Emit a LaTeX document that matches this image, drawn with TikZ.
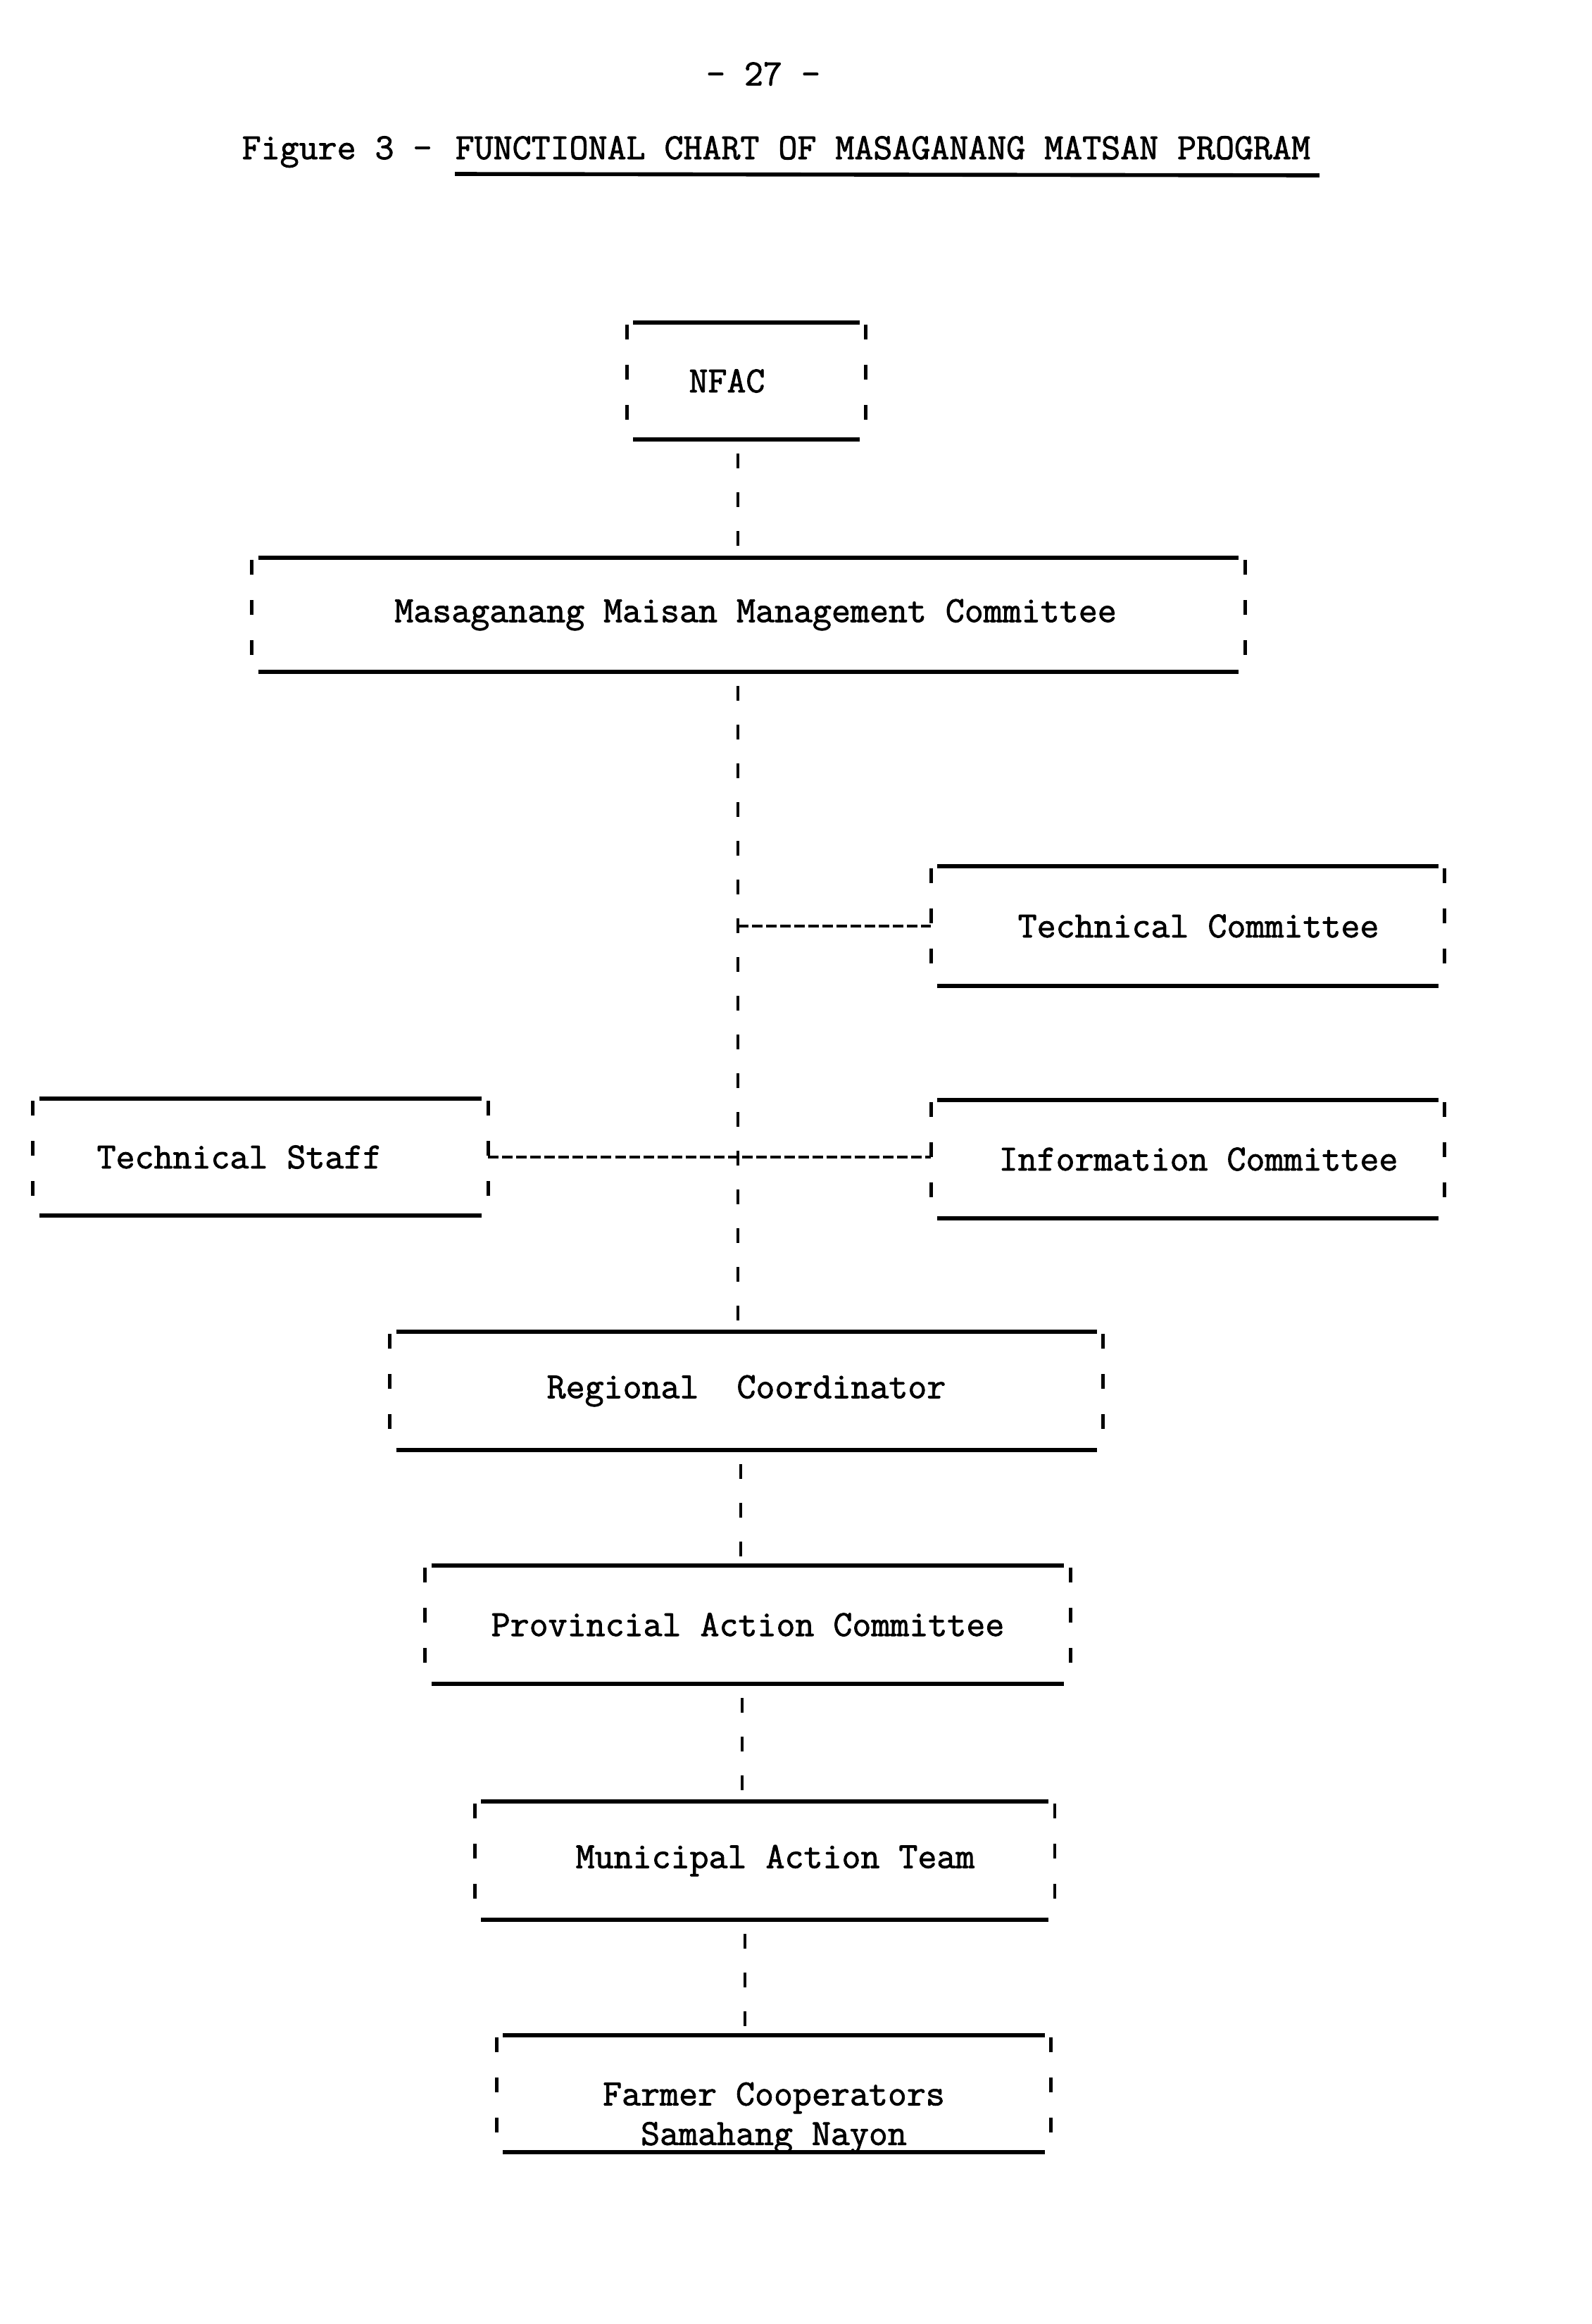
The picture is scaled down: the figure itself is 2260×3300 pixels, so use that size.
\documentclass[tikz,border=0pt]{standalone}
\usepackage{fontspec}
\newfontfamily\typew[AutoFakeBold=1.6]{Latin Modern Mono}
\begin{document}
\begin{tikzpicture}[x=0.01cm,y=-0.01cm,
  tw/.style={font=\typew\bfseries\fontsize{14.9pt}{16pt}\selectfont},
  tbox/.style={tw, inner sep=0pt, align=center},
  boxrule/.style={line width=1.7pt},
  sidemark/.style={line width=1.4pt, dash pattern=on 0.21cm off 0.36cm, dash phase=0.54cm},
  vconn/.style={line width=1.2pt, dash pattern=on 0.21cm off 0.34cm, dash phase=0.35cm},
  hconn/.style={line width=0.9pt, dash pattern=on 0.15cm off 0.05cm},
  ulrule/.style={line width=1.6pt}]
\useasboundingbox (0,0) rectangle (2260,3300);

% page number and title
\node[tw] (pnum) at (1084,105) {- 27 -};
\node[tw, anchor=base west, inner sep=0pt] (fig) at (343,226) {Figure 3 -};
\node[tw, anchor=base west, inner sep=0pt] (ftitle) at (646,226) {FUNCTIONAL CHART OF MASAGANANG MATSAN PROGRAM};
\draw[ulrule] ([yshift=-0.21cm]ftitle.base west) -- ([xshift=0.12cm,yshift=-0.23cm]ftitle.base east);

% spine coordinate
\coordinate (sp) at (1048,0);

% boxes
\node[tbox, minimum width=3.2cm, minimum height=1.64cm] (nfac) at (1060,541) {NFAC\hspace{0.55cm}};
\node[tbox, minimum width=13.9cm, minimum height=1.6cm] (mmmc) at (1063,873) {\hspace{0.2cm}Masaganang Maisan Management Committee};
\node[tbox, minimum width=7.1cm, minimum height=1.68cm] (tc) at (1687,1315) {\hspace{0.3cm}Technical Committee};
\node[tbox, minimum width=7.1cm, minimum height=1.67cm] (ic) at (1687,1646) {\hspace{0.3cm}Information Committee};
\node[tbox, minimum width=6.27cm, minimum height=1.64cm] (ts) at (370,1643) {Technical Staff\hspace{0.6cm}};
\node[tbox, minimum width=9.93cm, minimum height=1.66cm] (rc) at (1060,1975) {Regional\ \ Coordinator};
\node[tbox, minimum width=8.97cm, minimum height=1.66cm] (pac) at (1062,2307) {Provincial Action Committee};
\node[tbox, minimum width=8.04cm, minimum height=1.66cm] (mat) at (1086,2642) {\hspace{0.3cm}Municipal Action Team};
\node[tw, inner sep=0pt, minimum width=7.68cm, minimum height=1.64cm] (fc) at (1099,2973) {\raisebox{-0.46cm}[0pt][0pt]{\begin{tabular}{@{}c@{}}Farmer Cooperators\\Samahang Nayon\end{tabular}}};

\foreach \n in {nfac,mmmc,tc,ic,ts,rc,pac,mat,fc}{
  \draw[boxrule] (\n.north west) -- (\n.north east);
  \draw[boxrule] (\n.south west) -- (\n.south east);
  \draw[sidemark] ([xshift=-0.09cm]\n.north west) -- ([xshift=-0.09cm]\n.south west);
  \draw[sidemark] ([xshift=0.09cm]\n.north east) -- ([xshift=0.09cm]\n.south east);
}

% connectors
\draw[vconn] (nfac.south -| sp) -- (mmmc.north -| sp);
\draw[vconn] (mmmc.south -| sp) -- (rc.north -| sp);
\draw[hconn] (tc.west -| sp) -- ([xshift=-0.09cm]tc.west);
\draw[hconn] ([xshift=0.09cm]ts.east) -- ([xshift=-0.09cm]ts.east -| ic.west);
\draw[vconn] ([xshift=0.04cm]rc.south -| sp) -- ([xshift=0.04cm]pac.north -| sp);
\draw[vconn] ([xshift=0.06cm]pac.south -| sp) -- ([xshift=0.06cm]mat.north -| sp);
\draw[vconn] ([xshift=0.1cm]mat.south -| sp) -- ([xshift=0.1cm]fc.north -| sp);
\end{tikzpicture}
\end{document}
